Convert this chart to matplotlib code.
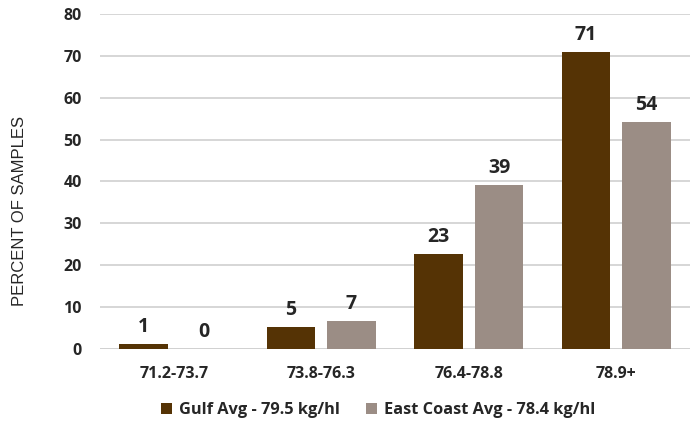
import numpy as np
import matplotlib.pyplot as plt

# data
categories = ['71.2-73.7', '73.8-76.3', '76.4-78.8', '78.9+']
gulf = [1.1, 5.3, 22.6, 71.0]
east = [0.0, 6.6, 39.1, 54.2]
series_names = ['Gulf Avg - 79.5 kg/hl', 'East Coast Avg - 78.4 kg/hl']
y_ticks = [0, 10, 20, 30, 40, 50, 60, 70, 80]


def main():
    bold = 'Open Sans'
    text_col = '#262626'
    colors = ['#553305', '#9B8D85']

    fig = plt.figure(figsize=(6.98, 4.24), dpi=100)
    ax = fig.add_axes([0.1433, 0.1769, 0.8452, 0.7901])

    x = np.arange(len(categories))
    w = 0.33
    off = 0.205
    b1 = ax.bar(x - off, gulf, w, color=colors[0], label=series_names[0], zorder=3)
    b2 = ax.bar(x + off, east, w, color=colors[1], label=series_names[1], zorder=3)

    for bars, vals in ((b1, gulf), (b2, east)):
        for rect, v in zip(bars, vals):
            ax.annotate(f'{v:.0f}', (rect.get_x() + rect.get_width() / 2, v),
                        xytext=(0, 5), textcoords='offset points',
                        ha='center', va='bottom', fontsize=14,
                        fontweight='bold', family=bold, color=text_col)

    ax.set_xlim(-0.5, len(categories) - 0.5)
    ax.set_ylim(0, 80)
    ax.set_yticks(y_ticks)
    ax.set_xticks(x)
    ax.set_xticklabels(categories)
    ax.yaxis.grid(True, color='#D0D0D0', linewidth=1.2, zorder=0)
    ax.set_axisbelow(True)
    for s in ax.spines.values():
        s.set_visible(False)
    ax.axhline(0, color='#D0D0D0', linewidth=1.2, zorder=1)
    ax.tick_params(axis='both', length=0, colors=text_col)
    ax.tick_params(axis='y', pad=13)
    ax.tick_params(axis='x', pad=12)
    for lab in ax.get_xticklabels() + ax.get_yticklabels():
        lab.set_fontfamily(bold)
        lab.set_fontweight('bold')
        lab.set_fontsize(11.5)

    fig.text(20 / 698, 1 - 211 / 424, 'PERCENT OF SAMPLES', rotation=90,
             ha='center', va='center', fontsize=12,
             family='Liberation Sans', color=text_col)

    fig.legend(handles=[b1, b2], loc='center', bbox_to_anchor=(378 / 698, 1 - 410 / 424),
               ncol=2, frameon=False, handlelength=0.7, handleheight=0.7,
               handletextpad=0.4, columnspacing=1.6,
               prop={'family': bold, 'weight': 'bold', 'size': 11.8})
    for t in fig.legends[0].get_texts():
        t.set_color(text_col)

    fig.savefig('out.png', dpi=100)


if __name__ == "__main__":
    main()
